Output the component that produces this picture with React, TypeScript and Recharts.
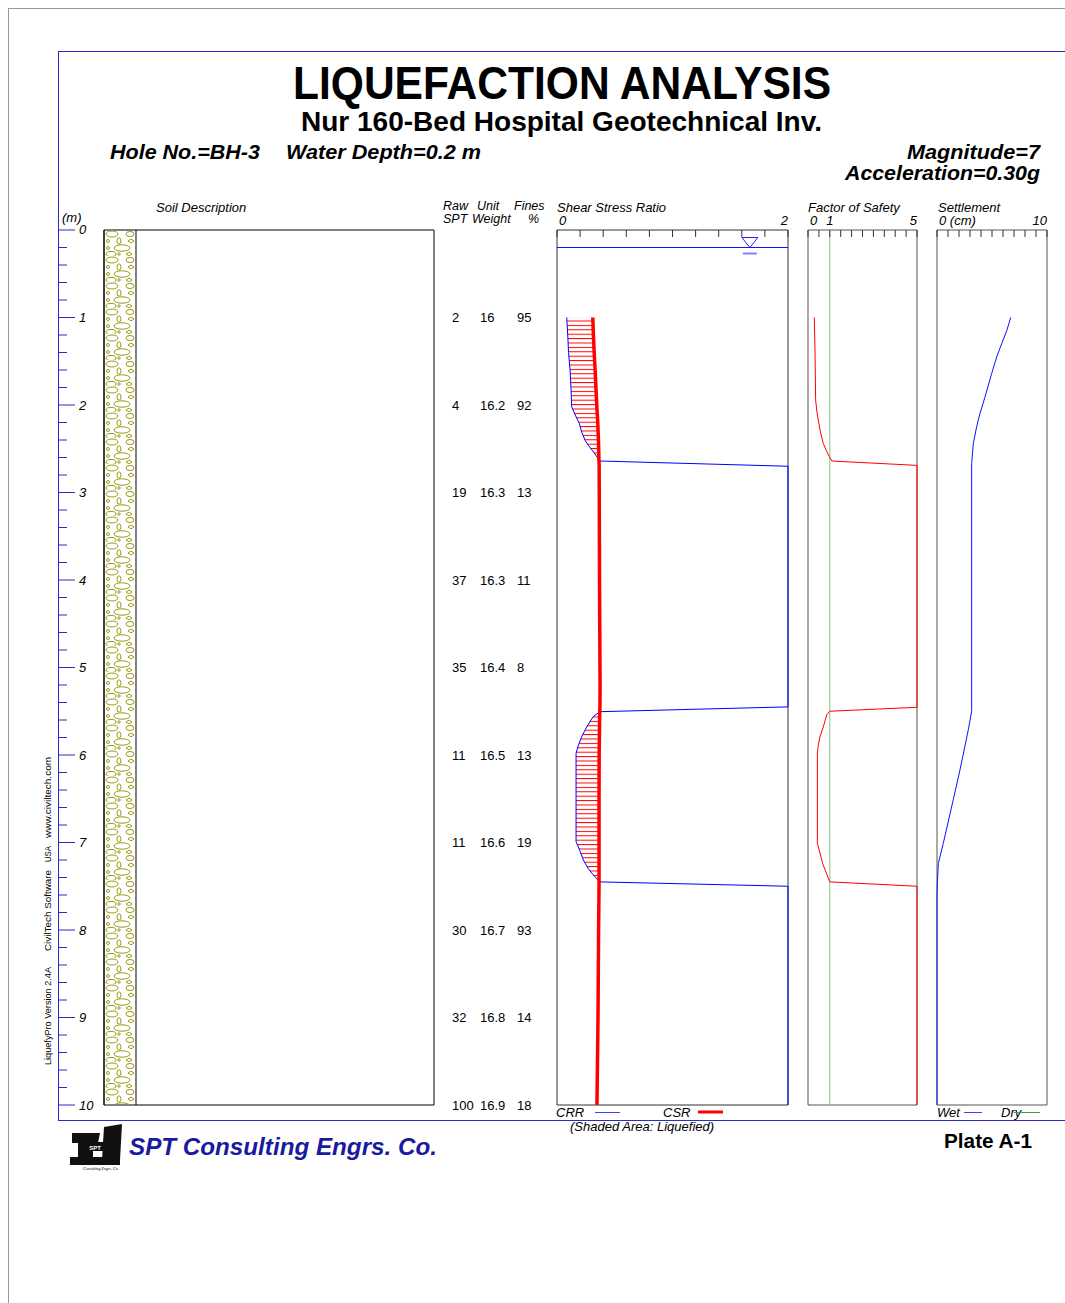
import React from "react";
import {
  ComposedChart, ScatterChart, Scatter, Line, Area, XAxis, YAxis,
  ReferenceArea, ReferenceLine, ReferenceDot,
} from "recharts";

const FONT = "'Liberation Sans', Arial, Helvetica, sans-serif";
const FRAME = "#2a2ac8";

// depth axis (m)
const depthTicks = Array.from({ length: 51 }, (_, i) => Math.round(i * 2) / 10);

// soil column
const soilLayers = [{ top: 0, bottom: 10, pattern: "gravel" }];

// SPT table rows
const sptDepth = [1, 2, 3, 4, 5, 6, 7, 8, 9, 10];
const sptRaw = [2, 4, 19, 37, 35, 11, 11, 30, 32, 100];
const unitWeight = [16, 16.2, 16.3, 16.3, 16.4, 16.5, 16.6, 16.7, 16.8, 16.9];
const fines = [95, 92, 13, 11, 8, 13, 19, 93, 14, 18];

// shear stress ratio
const ssrTicks = [0, 0.2, 0.4, 0.6, 0.8, 1, 1.2, 1.4, 1.6, 1.8, 2];
const ssrDepth = [1.0, 1.2, 1.4, 1.6, 1.8, 2.02, 2.11, 2.21, 2.31, 2.4, 2.46, 2.51, 2.56, 2.62, 2.64, 2.7,
  3.0, 4.0, 5.0, 5.2, 5.45, 5.505, 5.56, 5.68, 5.79, 5.89, 5.98, 6.5, 6.99, 7.1, 7.2, 7.3, 7.37, 7.45, 7.5,
  8.0, 9.0, 10.0];
const crr = [0.084, 0.093, 0.1, 0.113, 0.121, 0.127, 0.156, 0.193, 0.214, 0.242, 0.271, 0.3, 0.329, 0.36, 0.372, 2.0,
  2.0, 2.0, 2.0, 2.0, 2.0, 0.372, 0.314, 0.257, 0.214, 0.185, 0.165, 0.165, 0.165, 0.2, 0.228, 0.271, 0.314, 0.372, 2.0,
  2.0, 2.0, 2.0];
const csr = [0.31, 0.315, 0.322, 0.33, 0.337, 0.345, 0.349, 0.353, 0.356, 0.359, 0.36, 0.361, 0.362, 0.363, 0.364, 0.365,
  0.366, 0.368, 0.372, 0.373, 0.372, 0.37, 0.369, 0.368, 0.367, 0.366, 0.365, 0.364, 0.364, 0.364, 0.364, 0.364, 0.364,
  0.364, 0.364, 0.36, 0.355, 0.346];
const waterDepth = 0.2;

// factor of safety
const fsTicks = [0, 0.5, 1, 1.5, 2, 2.5, 3, 3.5, 4, 4.5, 5];
const fsDepth = [1.0, 1.37, 1.94, 2.06, 2.17, 2.32, 2.44, 2.53, 2.59, 2.64, 2.69, 5.455, 5.5, 5.54, 5.68, 5.79, 5.89,
  5.98, 7.01, 7.12, 7.24, 7.31, 7.45, 7.5, 10.0];
const fs = [0.29, 0.32, 0.35, 0.4, 0.47, 0.58, 0.7, 0.86, 0.98, 1.09, 5, 5, 1.0, 0.86, 0.7, 0.55, 0.47,
  0.43, 0.43, 0.55, 0.67, 0.78, 1.0, 5, 5];

// settlement (cm)
const settleTicks = [0, 1, 2, 3, 4, 5, 6, 7, 8, 9, 10];
const settleDepth = [1.0, 1.15, 1.3, 1.45, 1.64, 1.91, 2.1, 2.25, 2.44, 2.67, 5.5, 5.71, 6.17, 6.51, 7.01, 7.24, 7.47,
  7.6, 10.0];
const wetSettle = [6.7, 6.34, 5.88, 5.43, 4.97, 4.36, 3.9, 3.6, 3.3, 3.15, 3.15, 2.85, 2.09, 1.48, 0.57, 0.12, 0.03,
  0, 0];

const SOIL_COL = 0.097; // width share of the pattern strip in the soil box

const ssrRows = ssrDepth.map((d, i) => ({
  depth: d,
  crr: crr[i],
  csr: csr[i],
  shade: crr[i] < csr[i] ? [crr[i], csr[i]] : [csr[i], csr[i]],
}));
const fsRows = fsDepth.map((d, i) => ({ depth: d, fs: fs[i] }));
const settleRows = settleDepth.map((d, i) => ({ depth: d, wet: wetSettle[i] }));
const sptRows = sptDepth.map((d, i) => ({
  depth: d, col: 0, spt: sptRaw[i], uw: unitWeight[i], fines: fines[i],
}));
const soilRows = soilLayers.flatMap((l) => [
  { depth: l.top, strip: [0, SOIL_COL] },
  { depth: l.bottom, strip: [0, SOIL_COL] },
]);

const PLOT_H = 875;
const MT = 20;
const MB = 5;
const txt = { fontFamily: FONT, fontSize: 13, fill: "#000" };

function makeTopTick(labels: Record<string, string>, first: number, last: number) {
  return (props: any) => {
    const { x, payload } = props;
    const v = payload.value;
    const lab = labels[String(v)];
    let anchor: "start" | "middle" | "end" = "middle";
    let lx = x;
    if (v === first) { anchor = "start"; lx = x + 2; }
    if (v === last) { anchor = "end"; lx = x; }
    return (
      <g>
        <line x1={x} x2={x} y1={MT} y2={MT + 7} stroke="#333" />
        {lab !== undefined && (
          <text x={lx} y={MT - 5} textAnchor={anchor} {...txt} fontStyle="italic">{lab}</text>
        )}
      </g>
    );
  };
}

const DepthTick = (props: any) => {
  const { y, payload } = props;
  const v = payload.value;
  const major = Number.isInteger(v);
  const ax = 9;
  return (
    <g>
      <line x1={ax} x2={ax + (major ? 16 : 8)} y1={y} y2={y} stroke={FRAME} />
      {major && (
        <text x={ax + 20} y={v === 0 ? y - 1 : y} dy="0.35em" {...txt} fontStyle="italic">{v}</text>
      )}
    </g>
  );
};

function SoilChart() {
  return (
    <div style={{ position: "absolute", left: 50, top: 230 - MT }}>
      <ComposedChart layout="vertical" width={394} height={PLOT_H + MT + 12} data={soilRows}
        margin={{ top: MT, right: 10, bottom: 12, left: 53 }}>
        <defs>
          <pattern id="gravel" patternUnits="userSpaceOnUse" x={54} y={MT} width={32} height={26}>
            <g fill="none" stroke="#9a9a10" strokeWidth={1}>
              <ellipse cx={8} cy={4} rx={6} ry={3} />
              <ellipse cx={26} cy={4} rx={4} ry={2.5} />
              <circle cx={4} cy={11} r={1.5} />
              <ellipse cx={15} cy={11} rx={2} ry={3.2} />
              <path d="M24 11 L27 9 L30 11 L27 13 Z" />
              <ellipse cx={18} cy={18} rx={8} ry={3.2} />
              <circle cx={4} cy={18} r={1.5} />
              <ellipse cx={7} cy={24} rx={5} ry={2.6} />
              <path d="M22 24 L25 22 L28 24 L25 26 Z" />
              <circle cx={15} cy={24} r={1.2} />
            </g>
          </pattern>
        </defs>
        <XAxis type="number" domain={[0, 1]} hide />
        <YAxis type="number" dataKey="depth" domain={[0, 10]} ticks={depthTicks} interval={0}
          width={1} axisLine={false} tickLine={false} tick={<DepthTick />} />
        <ReferenceArea x1={0} x2={1} y1={0} y2={10} fill="none" stroke="#000" />
        <Area type="linear" dataKey="strip" fill="url(#gravel)" fillOpacity={1} stroke="#000"
          isAnimationActive={false} />
      </ComposedChart>
    </div>
  );
}

const SptShape = (props: any) => {
  const { cx, cy, payload } = props;
  return (
    <g>
      <text x={cx} y={cy} dy="0.35em" {...txt}>{payload.spt}</text>
      <text x={cx + 28} y={cy} dy="0.35em" {...txt}>{payload.uw}</text>
      <text x={cx + 65} y={cy} dy="0.35em" {...txt}>{payload.fines}</text>
    </g>
  );
};

function SptTable() {
  return (
    <div style={{ position: "absolute", left: 447, top: 230 - MT }}>
      <ScatterChart width={100} height={PLOT_H + MT + 15} margin={{ top: MT, right: 5, bottom: 15, left: 5 }}>
        <XAxis type="number" dataKey="col" domain={[0, 1]} hide />
        <YAxis type="number" dataKey="depth" domain={[0, 10]} reversed hide />
        <Scatter data={sptRows} shape={<SptShape />} isAnimationActive={false} />
      </ScatterChart>
    </div>
  );
}

const WaterMark = (props: any) => {
  const { cx, cy } = props;
  return (
    <g>
      <path d={`M${cx - 8} ${cy - 10} L${cx + 8} ${cy - 10} L${cx} ${cy} Z`} fill="none" stroke="#2020ff" />
      <line x1={cx - 7} x2={cx + 7} y1={cy + 6} y2={cy + 6} stroke="#8080ff" strokeWidth={2} />
    </g>
  );
};

function SsrChart() {
  return (
    <div style={{ position: "absolute", left: 537, top: 230 - MT }}>
      <ComposedChart layout="vertical" width={271} height={PLOT_H + MT + MB} data={ssrRows}
        margin={{ top: MT - 1, right: 20, bottom: MB, left: 20 }}>
        <defs>
          <pattern id="hatch" patternUnits="userSpaceOnUse" x={0} y={0.5} width={10} height={4.4}>
            <line x1={0} x2={10} y1={0.5} y2={0.5} stroke="#ff0000" strokeWidth={1} />
          </pattern>
        </defs>
        <XAxis type="number" orientation="top" domain={[0, 2]} ticks={ssrTicks} interval={0} height={1}
          axisLine={false} tickLine={false} tick={makeTopTick({ "0": "0", "2": "2" }, 0, 2)} />
        <YAxis type="number" dataKey="depth" domain={[0, 10]} hide />
        <ReferenceArea x1={0} x2={2} y1={0} y2={10} fill="none" stroke="#333" />
        <ReferenceLine y={waterDepth} stroke="#1010ff" />
        <ReferenceDot x={1.67} y={waterDepth} r={0} shape={<WaterMark />} />
        <Area type="linear" dataKey="shade" fill="url(#hatch)" fillOpacity={1} stroke="none"
          isAnimationActive={false} />
        <Line type="linear" dataKey="crr" stroke="#0000ff" strokeWidth={1} dot={false} isAnimationActive={false} />
        <Line type="linear" dataKey="csr" stroke="#ff0000" strokeWidth={3.5} dot={false} isAnimationActive={false} />
      </ComposedChart>
    </div>
  );
}

function FsChart() {
  return (
    <div style={{ position: "absolute", left: 788, top: 230 - MT }}>
      <ComposedChart layout="vertical" width={149} height={PLOT_H + MT + MB} data={fsRows}
        margin={{ top: MT - 1, right: 20, bottom: MB, left: 20 }}>
        <XAxis type="number" orientation="top" domain={[0, 5]} ticks={fsTicks} interval={0} height={1}
          axisLine={false} tickLine={false} tick={makeTopTick({ "0": "0", "1": "1", "5": "5" }, 0, 5)} />
        <YAxis type="number" dataKey="depth" domain={[0, 10]} hide />
        <ReferenceArea x1={0} x2={5} y1={0} y2={10} fill="none" stroke="#555" />
        <ReferenceLine x={1} stroke="#80c880" />
        <Line type="linear" dataKey="fs" stroke="#ff0000" strokeWidth={1} dot={false} isAnimationActive={false} />
      </ComposedChart>
    </div>
  );
}

function SettleChart() {
  return (
    <div style={{ position: "absolute", left: 917, top: 230 - MT }}>
      <ComposedChart layout="vertical" width={150} height={PLOT_H + MT + MB} data={settleRows}
        margin={{ top: MT - 1, right: 20, bottom: MB, left: 20 }}>
        <XAxis type="number" orientation="top" domain={[0, 10]} ticks={settleTicks} interval={0} height={1}
          axisLine={false} tickLine={false} tick={makeTopTick({ "0": "0 (cm)", "10": "10" }, 0, 10)} />
        <YAxis type="number" dataKey="depth" domain={[0, 10]} hide />
        <ReferenceArea x1={0} x2={10} y1={0} y2={10} fill="none" stroke="#555" />
        <Line type="linear" dataKey="wet" stroke="#1010ff" strokeWidth={1} dot={false} isAnimationActive={false} />
      </ComposedChart>
    </div>
  );
}

function Sheet() {
  const it = { ...txt, fontStyle: "italic" as const };
  const hd = { ...it, fontSize: 12.5 };
  const side = { fontFamily: FONT, fontSize: 9 };
  return (
    <svg width={1065} height={1303} style={{ position: "absolute", left: 0, top: 0 }}>
      <rect x={0} y={0} width={1065} height={1303} fill="#fff" />
      <line x1={8} x2={1065} y1={8.5} y2={8.5} stroke="#999" />
      <line x1={8.5} x2={8.5} y1={8} y2={1303} stroke="#999" />
      <line x1={58} x2={1065} y1={51.5} y2={51.5} stroke={FRAME} />
      <line x1={58.5} x2={58.5} y1={51} y2={1121} stroke={FRAME} />
      <line x1={58} x2={1065} y1={1120.5} y2={1120.5} stroke={FRAME} />

      <text x={562} y={99} textAnchor="middle" fontFamily={FONT} fontSize={46} fontWeight="bold"
        textLength={538} lengthAdjust="spacingAndGlyphs">LIQUEFACTION ANALYSIS</text>
      <text x={561.5} y={131} textAnchor="middle" fontFamily={FONT} fontSize={28} fontWeight="bold"
        textLength={521} lengthAdjust="spacingAndGlyphs">Nur 160-Bed Hospital Geotechnical Inv.</text>
      <g fontFamily={FONT} fontSize={20} fontWeight="bold" fontStyle="italic">
        <text x={110} y={159} textLength={150} lengthAdjust="spacingAndGlyphs">Hole No.=BH-3</text>
        <text x={286} y={159} textLength={195} lengthAdjust="spacingAndGlyphs">Water Depth=0.2 m</text>
        <text x={907} y={159} textLength={133} lengthAdjust="spacingAndGlyphs">Magnitude=7</text>
        <text x={845} y={180} textLength={195} lengthAdjust="spacingAndGlyphs">Acceleration=0.30g</text>
      </g>

      <text x={156} y={212} {...it}>Soil Description</text>
      <text x={62} y={222} {...it}>(m)</text>
      <text x={443} y={210} {...hd}>Raw</text>
      <text x={443} y={223} {...hd}>SPT</text>
      <text x={477} y={210} {...hd}>Unit</text>
      <text x={472} y={223} {...hd}>Weight</text>
      <text x={514} y={210} {...hd}>Fines</text>
      <text x={528} y={223} {...hd}>%</text>
      <text x={557} y={212} {...it}>Shear Stress Ratio</text>
      <text x={808} y={212} {...it}>Factor of Safety</text>
      <text x={938} y={212} {...it}>Settlement</text>

      <text x={556} y={1117} {...it}>CRR</text>
      <line x1={595} x2={620} y1={1112.5} y2={1112.5} stroke="#4040ff" />
      <text x={663} y={1117} {...it}>CSR</text>
      <line x1={698} x2={723} y1={1112} y2={1112} stroke="#ff0000" strokeWidth={3} />
      <text x={570} y={1131} {...it}>(Shaded Area: Liquefied)</text>
      <text x={937} y={1117} {...it}>Wet</text>
      <line x1={964} x2={982} y1={1112.5} y2={1112.5} stroke="#4040ff" />
      <text x={1001} y={1117} {...it}>Dry</text>
      <line x1={1014} x2={1040} y1={1112.5} y2={1112.5} stroke="#40a040" />

      <text transform="translate(51,1065) rotate(-90)" {...side} textLength={98} lengthAdjust="spacingAndGlyphs">
        LiquefyPro Version 2.4A
      </text>
      <text transform="translate(51,951) rotate(-90)" {...side} textLength={81} lengthAdjust="spacingAndGlyphs">
        CivilTech Software
      </text>
      <text transform="translate(51,862) rotate(-90)" {...side} textLength={16} lengthAdjust="spacingAndGlyphs">
        USA
      </text>
      <text transform="translate(51,838) rotate(-90)" {...side} textLength={81} lengthAdjust="spacingAndGlyphs">
        www.civiltech.com
      </text>

      <g fill="#111">
        <path d="M72 1133 L100 1133 L98 1143 L72 1143 Z" />
        <rect x={78} y={1133} width={15} height={30} />
        <path d="M104 1127 L122 1124 L120 1160 L102 1160 Z" />
        <rect x={70} y={1157} width={50} height={8} />
        <rect x={84} y={1142} width={22} height={9} />
      </g>
      <text x={95} y={1149.5} textAnchor="middle" fontFamily={FONT} fontSize={6} fontWeight="bold" fill="#fff">SPT</text>
      <text x={83} y={1170} fontFamily="'Liberation Serif', serif" fontSize={4} fontStyle="italic">Consulting Engrs. Co.</text>
      <text x={129} y={1155} fontFamily={FONT} fontSize={24} fontWeight="bold" fontStyle="italic" fill="#1a1aa0"
        textLength={308} lengthAdjust="spacingAndGlyphs">SPT Consulting Engrs. Co.</text>
      <text x={944} y={1148} fontFamily={FONT} fontSize={20} fontWeight="bold"
        textLength={88} lengthAdjust="spacingAndGlyphs">Plate A-1</text>
    </svg>
  );
}

export default function App() {
  return (
    <div style={{ position: "absolute", left: 0, top: 0, width: 1065, height: 1303, background: "#fff" }}>
      <Sheet />
      <SoilChart />
      <SptTable />
      <SsrChart />
      <FsChart />
      <SettleChart />
    </div>
  );
}
